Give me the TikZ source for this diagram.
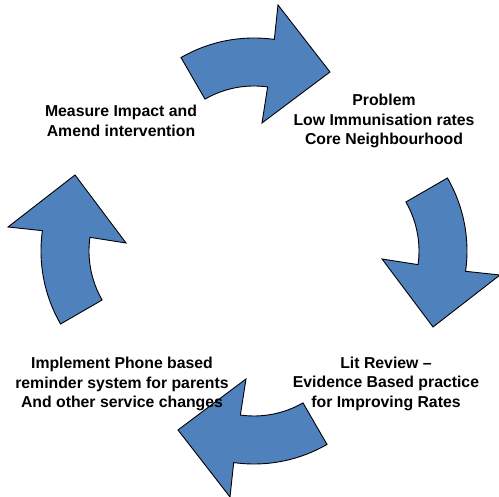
\documentclass[tikz,border=0pt]{standalone}
\usepackage{fontspec}
\setmainfont{Liberation Sans}
\definecolor{arrowblue}{RGB}{79,129,189}
\begin{document}
\begin{tikzpicture}[x=1pt,y=1pt,
  cyclearrow/.style={fill=arrowblue, draw=black, line width=0.9pt, line join=miter},
  steplabel/.style={font=\bfseries\fontsize{15.8}{19.5}\selectfont, align=center, inner sep=0pt}]
\useasboundingbox (0,0) rectangle (499,497);
% four curved block arrows, each a quarter turn of the cycle
\foreach \k in {0,1,2,3}{
  \begin{scope}[shift={(254,246)}, rotate=-90*\k]
    \begin{scope}[shift={(0,67)}]
      \draw[cyclearrow] (120:146) arc[start angle=120, end angle=82, radius=146]
        -- (24,179) -- (76,112) -- (8,61) -- (82:98)
        arc[start angle=82, end angle=120, radius=98] -- cycle;
    \end{scope}
  \end{scope}
}
% stage labels
\node[steplabel] (problem) at (384,376) {Problem\\Low Immunisation rates\\Core Neighbourhood};
\node[steplabel] (review) at (386,113.5) {Lit Review --\\Evidence Based practice\\for Improving Rates};
\node[steplabel] (implement) at (122,113) {Implement Phone based\\reminder system for parents\\And other service changes};
\node[steplabel] (measure) at (121,376) {Measure Impact and\\Amend intervention};
\end{tikzpicture}
\end{document}
